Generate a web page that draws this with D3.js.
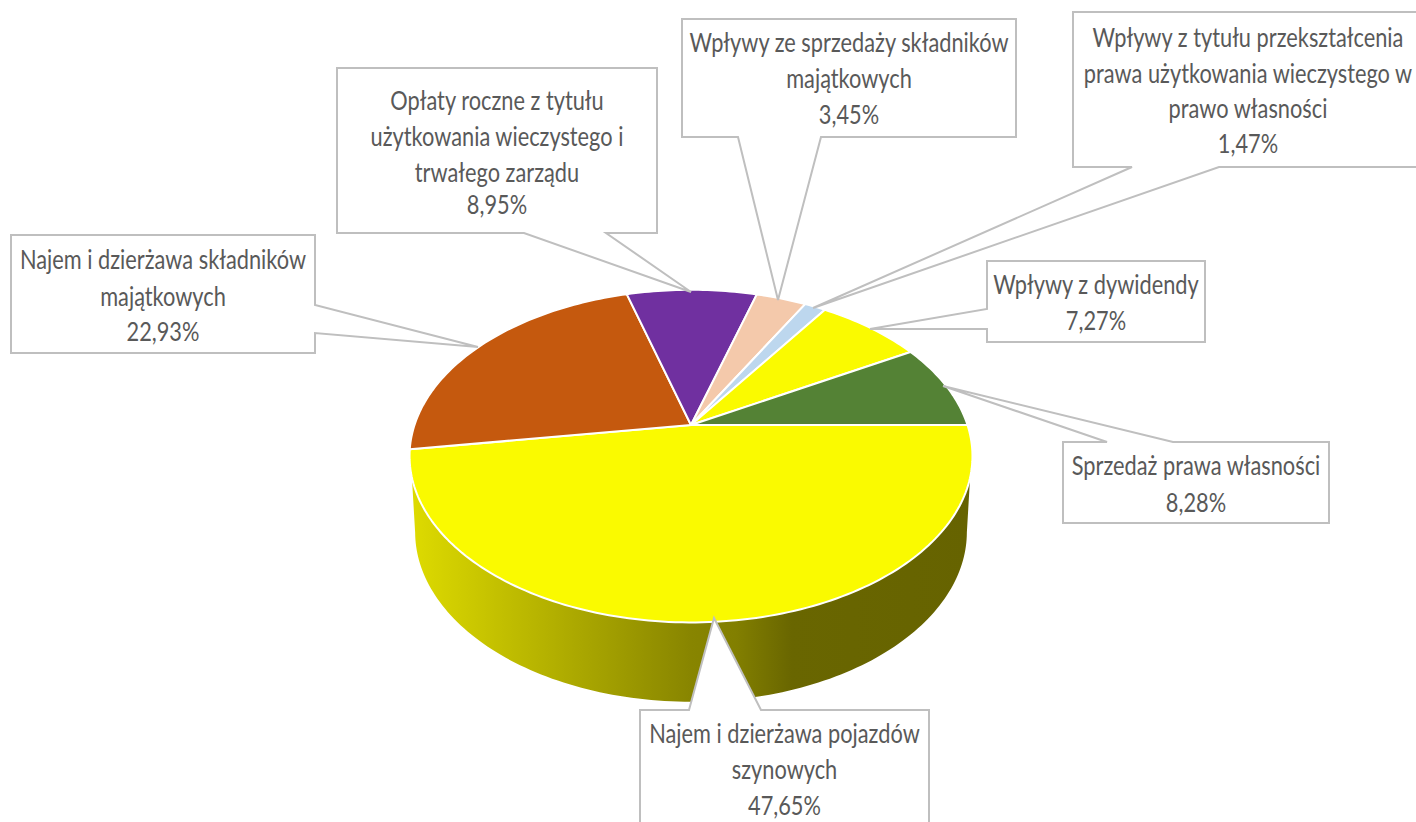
<!DOCTYPE html>
<html>
<head>
<meta charset="utf-8">
<script src="https://cdn.jsdelivr.net/npm/d3@7"></script>
<style>
  html, body { margin: 0; padding: 0; background: #fff; overflow: hidden; }
  text { font-family: Lato, "Open Sans", sans-serif; fill: #595959; }
</style>
</head>
<body>
<div id="chart"></div>
<script>
// data
const categories = [
    "Najem i dzierżawa pojazdów szynowych",
    "Najem i dzierżawa składników majątkowych",
    "Opłaty roczne z tytułu użytkowania wieczystego i trwałego zarządu",
    "Wpływy ze sprzedaży składników majątkowych",
    "Wpływy z tytułu przekształcenia prawa użytkowania wieczystego w prawo własności",
    "Wpływy z dywidendy",
    "Sprzedaż prawa własności"
];
const shares = [47.65, 22.93, 8.95, 3.45, 1.47, 7.27, 8.28];
const shareLabels = ["47,65%", "22,93%", "8,95%", "3,45%", "1,47%", "7,27%", "8,28%"];
const sliceColors = ["#fafa00", "#c5590e", "#7030a0", "#f4c9ab", "#bdd7ee", "#fafa00", "#548235"];
const labelLines = [
    ["Najem i dzierżawa pojazdów", "szynowych"],
    ["Najem i dzierżawa składników", "majątkowych"],
    ["Opłaty roczne z tytułu", "użytkowania wieczystego i", "trwałego zarządu"],
    ["Wpływy ze sprzedaży składników", "majątkowych"],
    ["Wpływy z tytułu przekształcenia", "prawa użytkowania wieczystego w", "prawo własności"],
    ["Wpływy z dywidendy"],
    ["Sprzedaż prawa własności"]
];

// callout layout: box, text baselines, pointer base points, pointer tip
const callouts = [
    { box: [640, 710, 929, 840], rows: [743, 779, 815], side: "top", from: 689, to: 761, tip: [714, 618] },
    { box: [11, 235, 315, 353], rows: [269, 306, 341], side: "right", from: 333, to: 305, tip: [478, 347] },
    { box: [337, 68, 657, 233], rows: [110, 146, 182, 214], side: "bottom", from: 606, to: 524, tip: [691, 292] },
    { box: [682, 19, 1016, 137], rows: [52, 88, 124], side: "bottom", from: 821, to: 738, tip: [778, 300] },
    { box: [1073, 12, 1423, 167], rows: [47, 83, 118, 153], side: "bottom", from: 1219, to: 1132, tip: [813, 308] },
    { box: [987, 261, 1205, 342], rows: [294, 330], side: "left", from: 309, to: 329, tip: [870, 329] },
    { box: [1063, 442, 1329, 523], rows: [475, 512], side: "top", from: 1107, to: 1173, tip: [943, 386] }
];

const width = 1416, height = 822;

// perspective of the disc, fitted on the picture
const upperRing = { cx: 691, cy: 425, rx: 276.5, ry: 160.5 },
    lowerRing = { cx: 691, cy: 500, rx: 271, ry: 164 },
    tilt = 0.187;

function project(ring, a) {
    const w = 1 + tilt * Math.cos(a);
    return [ring.cx + ring.rx * Math.sin(a) / w, ring.cy - ring.ry * Math.cos(a) / w];
}

const rad = d3.scaleLinear().domain([0, 360]).range([0, 2 * Math.PI]);

function rimPoints(ring, a0, a1) {
    const n = Math.max(2, Math.ceil(Math.abs(a1 - a0) / 0.02));
    return d3.range(n + 1).map(i => project(ring, a0 + (a1 - a0) * i / n));
}

const line = d3.line();

const svg = d3.select("#chart").append("svg")
    .attr("width", width)
    .attr("height", height)
    .style("display", "block");

// side wall gradient runs along x
const grad = svg.append("defs").append("linearGradient")
    .attr("id", "wall")
    .attr("gradientUnits", "userSpaceOnUse")
    .attr("x1", 411).attr("x2", 971).attr("y1", 0).attr("y2", 0);
[[0, "#dedb00"], [0.5, "#888500"], [0.58, "#827f00"], [0.68, "#696600"], [1, "#666300"]]
    .forEach(s => grad.append("stop").attr("offset", s[0]).attr("stop-color", s[1]));

svg.append("path")
    .attr("fill", "url(#wall)")
    .attr("d", line(rimPoints(upperRing, rad(108), rad(252))
        .concat(rimPoints(lowerRing, rad(259), rad(101)))) + "Z");

const pie = d3.pie()
    .sort(null)
    .startAngle(rad(90))
    .endAngle(rad(450));

const arcs = pie(shares);

svg.append("g").selectAll("path")
    .data(arcs)
    .join("path")
    .attr("fill", (d, i) => sliceColors[i])
    .attr("stroke", "#fff")
    .attr("stroke-width", 2)
    .attr("stroke-linejoin", "round")
    .attr("d", d => line([[upperRing.cx, upperRing.cy]].concat(rimPoints(upperRing, d.startAngle, d.endAngle))) + "Z");

function calloutPoints(c) {
    const [x0, y0, x1, y1] = c.box;
    if (c.side === "top") return [[x0, y0], [c.from, y0], c.tip, [c.to, y0], [x1, y0], [x1, y1], [x0, y1]];
    if (c.side === "bottom") return [[x0, y0], [x1, y0], [x1, y1], [c.from, y1], c.tip, [c.to, y1], [x0, y1]];
    if (c.side === "right") return [[x0, y0], [x1, y0], [x1, c.to], c.tip, [x1, c.from], [x1, y1], [x0, y1]];
    return [[x0, y0], [x1, y0], [x1, y1], [x0, y1], [x0, c.to], c.tip, [x0, c.from]];
}

const label = svg.append("g").selectAll("g")
    .data(callouts)
    .join("g");

label.append("path")
    .attr("fill", "#fff")
    .attr("stroke", "#bfbfbf")
    .attr("stroke-width", 2)
    .attr("stroke-linejoin", "miter")
    .attr("d", c => line(calloutPoints(c)) + "Z");

// the reference text is stretched upward, so it is narrowed here
label.each(function(c, i) {
    const mid = (c.box[0] + c.box[2]) / 2,
        rows = labelLines[i].concat(shareLabels[i]);
    d3.select(this).selectAll("text")
        .data(rows)
        .join("text")
        .attr("transform", (d, j) => "translate(" + mid + "," + c.rows[j] + ") scale(0.807,1)")
        .attr("text-anchor", "middle")
        .attr("font-size", 27)
        .text(d => d);
});
</script>
</body>
</html>
